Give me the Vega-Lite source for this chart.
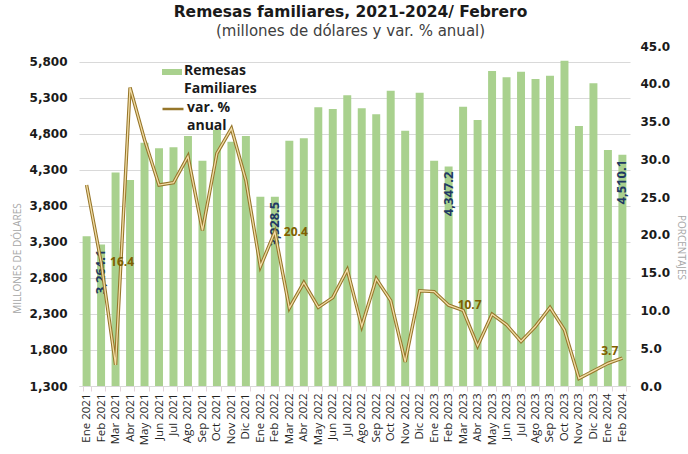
{
  "$schema": "https://vega.github.io/schema/vega-lite/v6.json",
  "width": 551,
  "height": 340,
  "autosize": "none",
  "padding": {"left": 79, "top": 46, "right": 58, "bottom": 68},
  "background": "white",
  "title": {
    "text": "Remesas familiares, 2021-2024/ Febrero",
    "subtitle": "(millones de dólares y var. % anual)",
    "font": "DejaVu Sans",
    "fontSize": 15.5,
    "fontWeight": "bold",
    "color": "#1a1a1a",
    "subtitleFont": "DejaVu Sans",
    "subtitleFontSize": 15,
    "subtitleColor": "#404040",
    "subtitlePadding": 4,
    "anchor": "middle",
    "dx": -4,
    "offset": 1
  },
  "config": {
    "view": {"stroke": null},
    "font": "Open Sans"
  },
  "data": {
    "values": [
      {"mes": "Ene 2021", "remesas": 3380, "var": 26.6},
      {"mes": "Feb 2021", "remesas": 3264.1, "var": 16.4},
      {"mes": "Mar 2021", "remesas": 4265, "var": 2.8},
      {"mes": "Abr 2021", "remesas": 4161, "var": 39.5},
      {"mes": "May 2021", "remesas": 4680, "var": 32.6},
      {"mes": "Jun 2021", "remesas": 4601, "var": 26.6},
      {"mes": "Jul 2021", "remesas": 4615, "var": 26.9},
      {"mes": "Ago 2021", "remesas": 4772, "var": 30.4},
      {"mes": "Sep 2021", "remesas": 4429, "var": 20.6},
      {"mes": "Oct 2021", "remesas": 4856, "var": 30.8},
      {"mes": "Nov 2021", "remesas": 4693, "var": 34.1},
      {"mes": "Dic 2021", "remesas": 4772, "var": 27.2},
      {"mes": "Ene 2022", "remesas": 3930, "var": 15.8},
      {"mes": "Feb 2022", "remesas": 3928.5, "var": 20.4},
      {"mes": "Mar 2022", "remesas": 4707, "var": 10.3},
      {"mes": "Abr 2022", "remesas": 4740, "var": 13.7},
      {"mes": "May 2022", "remesas": 5171, "var": 10.4},
      {"mes": "Jun 2022", "remesas": 5147, "var": 11.7},
      {"mes": "Jul 2022", "remesas": 5337, "var": 15.4},
      {"mes": "Ago 2022", "remesas": 5156, "var": 7.9},
      {"mes": "Sep 2022", "remesas": 5073, "var": 14.2},
      {"mes": "Oct 2022", "remesas": 5402, "var": 11.3},
      {"mes": "Nov 2022", "remesas": 4846, "var": 3.2},
      {"mes": "Dic 2022", "remesas": 5374, "var": 12.6},
      {"mes": "Ene 2023", "remesas": 4429, "var": 12.5},
      {"mes": "Feb 2023", "remesas": 4347.2, "var": 10.7},
      {"mes": "Mar 2023", "remesas": 5180, "var": 10.0},
      {"mes": "Abr 2023", "remesas": 4994, "var": 5.3},
      {"mes": "May 2023", "remesas": 5675, "var": 9.5},
      {"mes": "Jun 2023", "remesas": 5587, "var": 8.1},
      {"mes": "Jul 2023", "remesas": 5665, "var": 5.9},
      {"mes": "Ago 2023", "remesas": 5564, "var": 7.9},
      {"mes": "Sep 2023", "remesas": 5610, "var": 10.4},
      {"mes": "Oct 2023", "remesas": 5818, "var": 7.4},
      {"mes": "Nov 2023", "remesas": 4911, "var": 1.0},
      {"mes": "Dic 2023", "remesas": 5504, "var": 2.0},
      {"mes": "Ene 2024", "remesas": 4578, "var": 3.0},
      {"mes": "Feb 2024", "remesas": 4510.1, "var": 3.7}
    ]
  },
  "encoding": {
    "x": {
      "field": "mes",
      "type": "ordinal",
      "sort": null,
      "scale": {"paddingInner": 0.45, "paddingOuter": 0.25},
      "axis": {
        "title": null,
        "labelAngle": -90,
        "labelFont": "Open Sans",
        "labelFontSize": 11.5,
        "labelColor": "#1f1f1f",
        "labelPadding": 2,
        "labelOverlap": false,
        "tickBand": "extent",
        "tickSize": 5,
        "tickColor": "#E3D3DA",
        "domainColor": "#D9D9D9",
        "grid": false
      }
    }
  },
  "layer": [
    {
      "layer": [
        {
          "mark": {"type": "bar"},
          "encoding": {
            "y": {
              "field": "remesas",
              "type": "quantitative",
              "scale": {"domain": [1300, 6022], "zero": false, "nice": false},
              "axis": {
                "values": [1300, 1800, 2300, 2800, 3300, 3800, 4300, 4800, 5300, 5800],
                "tickCount": 20,
                "format": ",.0f",
                "labelOverlap": false,
                "labelFont": "DejaVu Sans",
                "labelFontSize": 12,
                "labelFontWeight": "bold",
                "labelColor": "#1a1a1a",
                "labelPadding": 12,
                "domain": false,
                "ticks": false,
                "grid": true,
                "gridColor": "#D9D9D9",
                "title": "MILLONES DE DÓLARES",
                "titleFont": "Open Sans",
                "titleFontSize": 10,
                "titleFontWeight": "normal",
                "titleColor": "#A6A6A6",
                "titlePadding": 7,
                "titleY": 212
              }
            },
            "y2": {"datum": 1300},
            "fill": {
              "datum": "Remesas Familiares",
              "scale": {"range": ["#A9D18E"]},
              "legend": {
                "orient": "none",
                "legendX": 83,
                "legendY": 16,
                "title": null,
                "symbolType": "M-1,-0.3H1V0.3H-1Z",
                "symbolSize": 400,
                "symbolStrokeWidth": 0,
                "labelFont": "Open Sans",
                "labelFontSize": 14,
                "labelFontWeight": "bold",
                "labelColor": "#1a1a1a",
                "labelOffset": 2,
                "labelBaseline": "top",
                "labelExpr": "['Remesas', 'Familiares']",
                "encode": {"labels": {"update": {"lineHeight": {"value": 18}, "dy": {"value": -8}}}}
              }
            }
          }
        },
        {
          "transform": [{"filter": "indexof(['Feb 2021','Feb 2022','Feb 2023','Feb 2024'], datum.mes) >= 0"}],
          "mark": {"type": "text", "angle": 270, "align": "right", "baseline": "middle", "dx": -5, "font": "Open Sans", "fontSize": 13, "fontWeight": "bold", "color": "#203864"},
          "encoding": {
            "y": {"field": "remesas", "type": "quantitative"},
            "text": {"field": "remesas", "type": "quantitative", "format": ",.1f"}
          }
        }
      ]
    },
    {
      "layer": [
        {
          "mark": {"type": "line", "strokeWidth": 3.4, "strokeJoin": "miter"},
          "encoding": {
            "y": {
              "field": "var",
              "type": "quantitative",
              "scale": {"domain": [0, 45], "nice": false},
              "axis": {
                "orient": "right",
                "values": [0, 5, 10, 15, 20, 25, 30, 35, 40, 45],
                "tickCount": 20,
                "format": ".1f",
                "labelOverlap": false,
                "labelFont": "DejaVu Sans",
                "labelFontSize": 12,
                "labelFontWeight": "bold",
                "labelColor": "#1a1a1a",
                "labelPadding": 10,
                "domain": false,
                "ticks": false,
                "grid": false,
                "title": "PORCENTAJES",
                "titleFont": "Open Sans",
                "titleFontSize": 10,
                "titleFontWeight": "normal",
                "titleColor": "#A6A6A6",
                "titlePadding": 6,
                "titleY": 201
              }
            },
            "stroke": {
              "datum": "var. % anual",
              "scale": {"range": ["#96762A"]},
              "legend": {
                "orient": "none",
                "legendX": 82,
                "legendY": 51,
                "title": null,
                "symbolType": "stroke",
                "symbolSize": 441,
                "symbolStrokeWidth": 2.5,
                "labelFont": "Open Sans",
                "labelFontSize": 14,
                "labelFontWeight": "bold",
                "labelColor": "#1a1a1a",
                "labelOffset": 2,
                "labelBaseline": "top",
                "labelExpr": "['var. %', 'anual']",
                "encode": {"labels": {"update": {"lineHeight": {"value": 18}, "dy": {"value": -8}}}}
              }
            }
          }
        },
        {
          "mark": {"type": "line", "strokeWidth": 1.3, "color": "#F3DDA6", "strokeJoin": "miter"},
          "encoding": {"y": {"field": "var", "type": "quantitative"}}
        },
        {
          "transform": [{"filter": "indexof(['Feb 2021','Feb 2022','Feb 2023'], datum.mes) >= 0"}],
          "mark": {"type": "text", "align": "left", "baseline": "middle", "dx": 9, "font": "Open Sans", "fontSize": 12, "fontWeight": "bold", "color": "#7F6000"},
          "encoding": {
            "y": {"field": "var", "type": "quantitative"},
            "text": {"field": "var", "type": "quantitative", "format": ".1f"}
          }
        },
        {
          "transform": [{"filter": "datum.mes == 'Feb 2024'"}],
          "mark": {"type": "text", "align": "right", "baseline": "middle", "dx": -4, "dy": -7, "font": "Open Sans", "fontSize": 12, "fontWeight": "bold", "color": "#7F6000"},
          "encoding": {
            "y": {"field": "var", "type": "quantitative"},
            "text": {"field": "var", "type": "quantitative", "format": ".1f"}
          }
        }
      ]
    }
  ],
  "resolve": {"scale": {"y": "independent"}}
}
